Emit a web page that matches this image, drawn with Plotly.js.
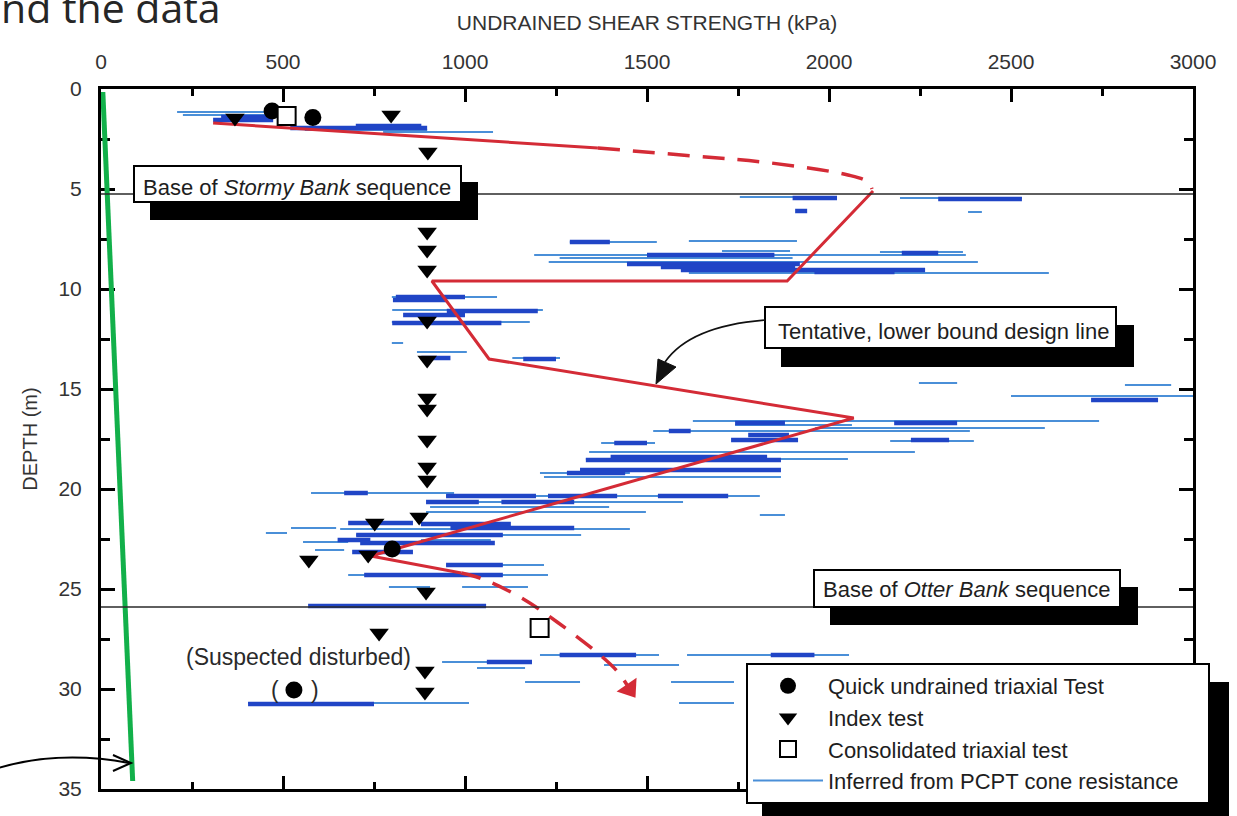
<!DOCTYPE html>
<html>
<head>
<meta charset="utf-8">
<script src="https://cdn.plot.ly/plotly-3.0.1.min.js"></script>
<style>
  html, body { margin: 0; padding: 0; background: #ffffff; }
  #chart { width: 1237px; height: 816px; }
</style>
</head>
<body>
<div id="chart"></div>
<script>
// Undrained shear strength (kPa) against depth below seabed (m)

// Strength inferred from PCPT cone resistance: light traces (depth, from, to)
const pcptThinDepth = [1.15, 1.3, 2.05, 2.15, 5.4, 5.45, 6.15, 7.65, 7.6, 8.1, 8.15, 8.3, 8.45, 8.65, 9.2,
  10.4, 11.05, 11.65, 12.7, 13.15, 13.45, 14.7, 14.8, 15.35, 16.6, 16.8, 16.95, 17.1, 17.6, 17.7,
  18.15, 18.5, 19.2, 19.4, 20.2, 20.35, 20.65, 20.9, 21.15, 21.3, 21.95, 22.0, 22.2, 22.3, 22.55,
  22.65, 23.05, 23.8, 24.3, 24.9, 24.9, 28.3, 28.65, 28.8, 28.95, 28.3, 29.65, 29.65, 30.7, 30.7];
const pcptThinFrom = [209, 225, 560, 775, 1755, 2195, 2382, 1288, 1615, 1706, 2140, 1190, 1260, 1230, 1615,
  799, 800, 799, 799, 868, 1130, 2247, 2813, 2500, 1626, 1742, 1962, 1517, 2168, 1374,
  1341, 1332, 1206, 1217, 577, 948, 970, 904, 893, 1810, 522, 657, 453, 701, 879,
  555, 588, 948, 679, 791, 992, 1206, 937, 1382, 1033, 1610, 1165, 1566, 1588, 404];
const pcptThinTo = [473, 484, 896, 1077, 2022, 2530, 2420, 1527, 1912, 1893, 2368, 2376, 1900, 2409, 2604,
  1088, 1214, 1178, 830, 1005, 1261, 2352, 2940, 3000, 2742, 2063, 2593, 2387, 2398, 1522,
  2236, 2052, 1453, 1868, 970, 1810, 1599, 1396, 1497, 1879, 646, 1453, 511, 1319, 1071,
  679, 668, 1217, 1228, 904, 1173, 1533, 1184, 1588, 1165, 2055, 1316, 1739, 1739, 1011];

// Densely overlapping PCPT readings: heavy traces (depth, from, to)
const pcptBoldDepth = [1.4, 1.55, 1.95, 1.85, 5.45, 5.5, 6.1, 7.65, 8.2, 8.3, 8.75, 8.9, 9.05, 9.15,
  10.4, 10.55, 11.1, 11.3, 11.7, 13.45, 13.5, 15.55, 16.7, 16.7, 17.1, 17.3, 17.55, 17.55, 17.7,
  18.4, 18.55, 19.05, 19.2, 20.2, 20.35, 20.35, 20.35, 20.65, 20.65, 21.7, 21.75, 21.95, 22.3,
  22.55, 22.7, 23.15, 23.8, 24.3, 25.85, 28.3, 28.3, 28.65, 30.75];
const pcptBoldFrom = [330, 308, 520, 700, 1900, 2300, 1907, 1288, 2200, 1500, 1445, 1538, 1593, 1960,
  810, 802, 950, 830, 800, 880, 1160, 2720, 1742, 2179, 1560, 1778, 1731, 2225, 1410,
  1400, 1332, 1316, 1280, 668, 948, 1228, 1530, 893, 1100, 679, 879, 960, 701,
  650, 712, 690, 948, 723, 569, 1260, 1840, 1060, 404];
const pcptBoldTo = [470, 473, 896, 880, 2022, 2530, 1940, 1398, 2300, 1850, 1920, 1907, 2264, 2180,
  1000, 950, 1200, 1000, 1100, 960, 1250, 2904, 1879, 2352, 1620, 1890, 1915, 2330, 1500,
  1830, 1868, 1868, 1440, 733, 1195, 1418, 1723, 1038, 1300, 857, 1126, 1300, 1104,
  740, 1082, 857, 1104, 1104, 1058, 1470, 1960, 1184, 750];

// Laboratory results
const quickTriaxialSu = [582, 470, 800, 530];
const quickTriaxialDepth = [1.43, 1.1, 23.0, 30.05];
const indexTestSu = [368, 797, 898, 896, 896, 896, 896, 896, 896, 896, 896, 896, 896, 874, 752, 734, 571, 893, 764, 890, 890];
const indexTestDepth = [1.45, 1.3, 3.15, 7.15, 8.05, 9.05, 11.6, 13.55, 15.45, 16.0, 17.55, 18.9, 19.55, 21.4, 21.7, 23.3, 23.55, 25.15, 27.2, 29.1, 30.15];
const consolidatedSu = [510, 1205];
const consolidatedDepth = [1.35, 26.95];

// Tentative lower bound design line (solid where defined, dashed where extrapolated)
const designTopSu = [308, 1365];
const designTopDepth = [1.7, 2.95];
const designTopDashSu = [1365, 1626, 1841, 2052, 2107, 2118];
const designTopDashDepth = [2.95, 3.35, 3.7, 4.3, 4.65, 5.0];
const designMainSu = [2121, 1885, 909, 1066, 2068, 741, 990];
const designMainDepth = [5.1, 9.6, 9.6, 13.5, 16.45, 23.35, 24.2];
const designLowDashSu = [990, 1041, 1151, 1253, 1371, 1420, 1452];
const designLowDashDepth = [24.2, 24.45, 25.4, 26.65, 28.3, 29.15, 30.0];

// Straight reference line drawn near the origin
const greenSu = [5, 87];
const greenDepth = [0.15, 34.6];

// Sequence boundaries
const sequenceBaseDepth = [5.25, 25.9];

const FONT = 'Liberation Sans, Arial, sans-serif';
const TXT = '#1e1e1e';

// page pixel -> paper fraction (plot area spans x 101..1193, y 89..789)
const fx = v => (v - 101) / 1092;
const fy = v => (789 - v) / 700;

function segments(depth, from, to) {
  const x = [], y = [];
  depth.forEach((d, i) => { x.push(from[i], to[i], null); y.push(d, d, null); });
  return { x, y };
}
const thin = segments(pcptThinDepth, pcptThinFrom, pcptThinTo);
const bold = segments(pcptBoldDepth, pcptBoldFrom, pcptBoldTo);

const RED = '#d42b36';
const traces = [
  { x: thin.x, y: thin.y, mode: 'lines', name: 'Inferred from PCPT cone resistance\u00a0\u00a0\u00a0\u00a0',
    line: { color: '#4a8fd8', width: 2 }, legendrank: 4, connectgaps: false },
  { x: bold.x, y: bold.y, mode: 'lines', showlegend: false,
    line: { color: '#2045c6', width: 4.5 }, connectgaps: false },
  { x: designTopSu, y: designTopDepth, mode: 'lines', showlegend: false,
    line: { color: RED, width: 3 } },
  { x: designTopDashSu, y: designTopDashDepth, mode: 'lines', showlegend: false,
    line: { color: RED, width: 3.5, dash: '22px,13px', shape: 'spline' } },
  { x: designMainSu, y: designMainDepth, mode: 'lines', showlegend: false,
    line: { color: RED, width: 3 } },
  { x: designLowDashSu, y: designLowDashDepth, mode: 'lines+markers', showlegend: false,
    line: { color: RED, width: 3.5, dash: '20px,13px', shape: 'spline' },
    marker: { symbol: 'triangle-up', angleref: 'previous', color: RED, opacity: 1,
      line: { width: 0 },
      size: designLowDashSu.map((_, i) => i === designLowDashSu.length - 1 ? 21 : 0) } },
  { x: greenSu, y: greenDepth, mode: 'lines', showlegend: false,
    line: { color: '#12b04a', width: 5 } },
  { x: quickTriaxialSu, y: quickTriaxialDepth, mode: 'markers', name: 'Quick undrained triaxial Test',
    marker: { symbol: 'circle', size: 17, color: '#000' }, legendrank: 1 },
  { x: consolidatedSu, y: consolidatedDepth, mode: 'markers', name: 'Consolidated triaxial test',
    marker: { symbol: 'square', size: 18, color: '#fff', line: { color: '#000', width: 2 } }, legendrank: 3 },
  { x: indexTestSu, y: indexTestDepth, mode: 'markers', name: 'Index test',
    marker: { symbol: 'triangle-down', size: 17, color: '#000' }, legendrank: 2 }
];

const shapes = [];
sequenceBaseDepth.forEach(d => shapes.push({
  type: 'line', xref: 'paper', yref: 'y', x0: 0, x1: 1, y0: d, y1: d,
  line: { color: '#2a2a2a', width: 1.5 }
}));

// label boxes with offset black shadows
function box(x0, y0, x1, y1, sx0, sy0, sx1, sy1) {
  shapes.push({ type: 'rect', xref: 'paper', yref: 'paper', x0: fx(sx0), x1: fx(sx1), y0: fy(sy1), y1: fy(sy0),
    fillcolor: '#000', line: { width: 0 } });
  shapes.push({ type: 'rect', xref: 'paper', yref: 'paper', x0: fx(x0), x1: fx(x1), y0: fy(y1), y1: fy(y0),
    fillcolor: '#fff', line: { color: '#000', width: 2 } });
}
box(134, 166, 461, 202, 150, 182, 478, 220);
box(765, 307, 1116, 348, 781, 325, 1134, 367);
box(814, 570, 1120, 607, 830, 587, 1138, 625);
// legend shadow
shapes.push({ type: 'rect', xref: 'paper', yref: 'paper', x0: fx(762), x1: fx(1229), y0: fy(830), y1: fy(682),
  fillcolor: '#000', line: { width: 0 } });

// curved callout pointing at the design line
shapes.push({ type: 'path', xref: 'paper', yref: 'paper',
  path: `M${fx(765)},${fy(320)} Q${fx(690)},${fy(326)} ${fx(665)},${fy(362)}`,
  line: { color: '#111', width: 1.6 } });
shapes.push({ type: 'path', xref: 'paper', yref: 'paper',
  path: `M${fx(656)},${fy(384)} L${fx(658)},${fy(359)} L${fx(676)},${fy(367)} Z`,
  fillcolor: '#111', line: { color: '#111', width: 1 } });

// curved arrow at the lower left pointing at the green line
shapes.push({ type: 'path', xref: 'paper', yref: 'paper',
  path: `M${fx(-2)},${fy(768)} Q${fx(60)},${fy(750)} ${fx(129)},${fy(763)}`,
  line: { color: '#000', width: 2 } });
shapes.push({ type: 'path', xref: 'paper', yref: 'paper',
  path: `M${fx(113)},${fy(755)} L${fx(131)},${fy(763)} L${fx(113)},${fy(771)}`,
  line: { color: '#000', width: 2 } });

const annotations = [
  { xref: 'paper', yref: 'paper', x: fx(297), y: fy(187), xanchor: 'center', yanchor: 'middle', showarrow: false,
    text: 'Base of <i>Stormy Bank</i> sequence', font: { family: FONT, size: 22, color: TXT } },
  { xref: 'paper', yref: 'paper', x: fx(943), y: fy(331), xanchor: 'center', yanchor: 'middle', showarrow: false,
    text: 'Tentative, lower bound design line', font: { family: FONT, size: 22, color: TXT } },
  { xref: 'paper', yref: 'paper', x: fx(966), y: fy(589), xanchor: 'center', yanchor: 'middle', showarrow: false,
    text: 'Base of <i>Otter Bank</i> sequence', font: { family: FONT, size: 22, color: TXT } },
  { xref: 'paper', yref: 'paper', x: fx(298), y: fy(657), xanchor: 'center', yanchor: 'middle', showarrow: false,
    text: '(Suspected disturbed)', font: { family: FONT, size: 23, color: '#2a2a2a' } },
  { xref: 'paper', yref: 'paper', x: fx(275), y: fy(690), xanchor: 'center', yanchor: 'middle', showarrow: false,
    text: '(', font: { family: FONT, size: 23, color: '#2a2a2a' } },
  { xref: 'paper', yref: 'paper', x: fx(315), y: fy(690), xanchor: 'center', yanchor: 'middle', showarrow: false,
    text: ')', font: { family: FONT, size: 23, color: '#2a2a2a' } },
  { xref: 'paper', yref: 'paper', x: fx(-1), y: fy(7), xanchor: 'left', yanchor: 'middle', showarrow: false,
    text: 'nd the data', font: { family: 'Open Sans, sans-serif', size: 41, color: '#262626' } }
];

const axisCommon = {
  showline: true, linecolor: '#000', linewidth: 3, mirror: 'ticks',
  ticks: 'inside', tickcolor: '#000', tickwidth: 3,
  showgrid: false, zeroline: false,
  tickfont: { family: FONT, size: 21, color: '#333' },
  ticklabelstandoff: 12
};

const layout = {
  width: 1237, height: 816,
  margin: { l: 101, r: 44, t: 89, b: 27, pad: 0 },
  paper_bgcolor: '#fff', plot_bgcolor: '#fff',
  font: { family: FONT, color: TXT },
  xaxis: Object.assign({}, axisCommon, {
    side: 'top', range: [0, 3000], tick0: 0, dtick: 500, ticklen: 13, ticklabelstandoff: 9,
    minor: { dtick: 250, ticks: 'inside', ticklen: 7, tickwidth: 3, tickcolor: '#000' },
    title: { text: 'UNDRAINED SHEAR STRENGTH (kPa)', font: { family: FONT, size: 21, color: '#333' }, standoff: 14 }
  }),
  yaxis: Object.assign({}, axisCommon, {
    range: [35, 0], tick0: 0, dtick: 5, ticklen: 14, layer: 'below traces',
    minor: { dtick: 2.5, ticks: 'inside', ticklen: 9, tickwidth: 3, tickcolor: '#000' },
    title: { text: 'DEPTH (m)', font: { family: FONT, size: 20, color: '#333' }, standoff: 16 }
  }),
  showlegend: true,
  legend: {
    x: fx(746), y: fy(663), xanchor: 'left', yanchor: 'top',
    bgcolor: '#fff', bordercolor: '#000', borderwidth: 2,
    font: { family: FONT, size: 22, color: TXT },
    itemwidth: 70, tracegroupgap: 0, traceorder: 'normal'
  },
  shapes, annotations
};

Plotly.newPlot('chart', traces, layout, { displayModeBar: false, staticPlot: true });
</script>
</body>
</html>
